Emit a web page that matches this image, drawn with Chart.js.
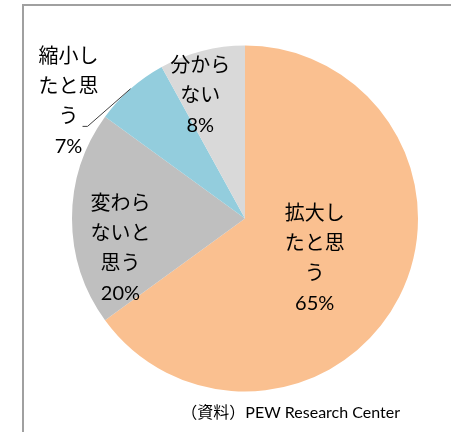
<!DOCTYPE html>
<html>
<head>
<meta charset="utf-8">
<script src="https://cdn.jsdelivr.net/npm/chart.js@4"></script>
<style>
  html, body { margin: 0; padding: 0; background: #fff; }
  #wrap { width: 451px; height: 432px; }
</style>
</head>
<body>
<div id="wrap"><canvas id="graficoPizza" width="451" height="432"></canvas></div>
<script>
// データ
const categorias = ['拡大したと思う', '変わらないと思う', '縮小したと思う', '分からない'];
const valores = [65, 20, 7, 8];
const cores = ['#FAC090', '#BFBFBF', '#93CDDD', '#D9D9D9'];
const fonte = '（資料）PEW Research Center';

// ラベル位置（中心からの位置、半径単位）
const posLabel = [[0.403, 0.233], [-0.72, 0.173], [-1.02, -0.677], [-0.259, -0.712]];
const FONT = 'Lato, "Noto Sans CJK JP", sans-serif';

function quebra(txt) {
    const linhas = [];
    for (let i = 0; i < txt.length; i += 3) linhas.push(txt.slice(i, i + 3));
    return linhas;
}

const rotulos = {
    id: 'rotulos',
    beforeDraw(chart) {
        const c = chart.ctx;
        c.save();
        c.strokeStyle = '#A0A0A0';
        c.lineWidth = 2;
        c.beginPath();
        c.moveTo(23, 432);
        c.lineTo(23, 5);
        c.lineTo(451, 5);
        c.stroke();
        c.restore();
    },
    afterDraw(chart) {
        const c = chart.ctx;
        const arcs = chart.getDatasetMeta(0).data;
        c.save();
        c.fillStyle = '#000';
        c.textAlign = 'center';
        c.textBaseline = 'middle';
        c.font = '20px ' + FONT;
        arcs.forEach((arc, i) => {
            const r = arc.outerRadius;
            const cx = arc.x + posLabel[i][0] * r;
            const cy = arc.y + posLabel[i][1] * r;
            const linhas = quebra(categorias[i]).concat([valores[i] + '%']);
            const lh = 30;
            linhas.forEach((l, k) => {
                c.fillText(l, cx, cy + (k - (linhas.length - 1) / 2) * lh);
            });
            // linha guia para rótulo fora da fatia
            if (Math.hypot(posLabel[i][0], posLabel[i][1]) > 1) {
                const mid = (arc.startAngle + arc.endAngle) / 2;
                c.strokeStyle = '#404040';
                c.lineWidth = 1;
                c.beginPath();
                c.moveTo(cx + 14, cy + 25);
                c.lineTo(cx + 19, cy + 25);
                c.lineTo(arc.x + Math.cos(mid) * r, arc.y + Math.sin(mid) * r);
                c.stroke();
            }
        });
        c.font = '16px ' + FONT;
        c.textAlign = 'right';
        c.fillText(fonte, 400, 413);
        c.restore();
    }
};

const ctxPizza = document.getElementById('graficoPizza').getContext('2d');
const graficoPizza = new Chart(ctxPizza, {
    type: 'pie',
    data: {
        labels: categorias,
        datasets: [{
            data: valores,
            backgroundColor: cores,
            borderWidth: 0
        }]
    },
    options: {
        responsive: false,
        animation: false,
        layout: { padding: { left: 72, right: 33, top: 45, bottom: 40 } },
        plugins: {
            legend: { display: false },
            tooltip: { enabled: false }
        }
    },
    plugins: [rotulos]
});
</script>
</body>
</html>
